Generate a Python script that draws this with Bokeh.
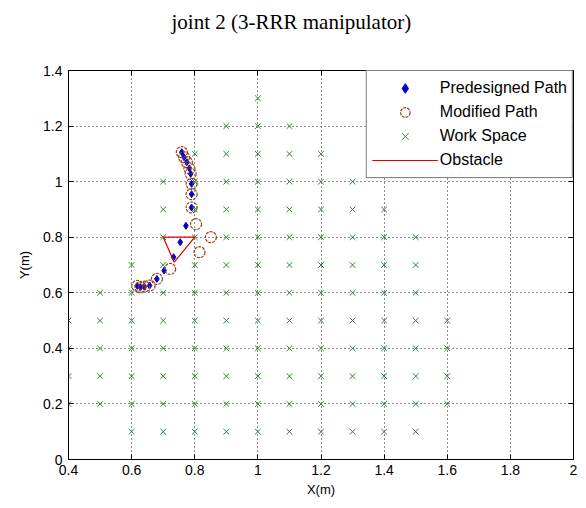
from bokeh.plotting import figure
from bokeh.models import (Range1d, FixedTicker, LinearAxis, Legend, LegendItem, Title,
                          CustomLabelingPolicy)
from bokeh.embed import file_html
from bokeh.resources import INLINE

# ---------------- data ----------------
title_text = "joint 2 (3-RRR manipulator)"
x_label = "X(m)"
y_label = "Y(m)"

x_ticks = [0.4, 0.6, 0.8, 1.0, 1.2, 1.4, 1.6, 1.8, 2.0]
x_tick_labels = ["0.4", "0.6", "0.8", "1", "1.2", "1.4", "1.6", "1.8", "2"]
y_ticks = [0.0, 0.2, 0.4, 0.6, 0.8, 1.0, 1.2, 1.4]
y_tick_labels = ["0", "0.2", "0.4", "0.6", "0.8", "1", "1.2", "1.4"]

# Work space grid points, row by row (y value, list of x values)
ws_row_y = [1.3, 1.2, 1.1, 1.0, 0.9, 0.8, 0.7, 0.6, 0.5, 0.4, 0.3, 0.2, 0.1]
ws_row_130 = [1.0]
ws_row_120 = [0.9, 1.0, 1.1]
ws_row_110 = [0.8, 0.9, 1.0, 1.1, 1.2]
ws_row_100 = [0.7, 0.8, 0.9, 1.0, 1.1, 1.2, 1.3]
ws_row_090 = [0.7, 0.8, 0.9, 1.0, 1.1, 1.2, 1.3, 1.4]
ws_row_080 = [0.7, 0.8, 0.9, 1.0, 1.1, 1.2, 1.3, 1.4, 1.5]
ws_row_070 = [0.6, 0.7, 0.8, 0.9, 1.0, 1.1, 1.2, 1.3, 1.4, 1.5]
ws_row_060 = [0.5, 0.6, 0.7, 0.8, 0.9, 1.0, 1.1, 1.2, 1.3, 1.4, 1.5]
ws_row_050 = [0.4, 0.5, 0.6, 0.7, 0.8, 0.9, 1.0, 1.1, 1.2, 1.3, 1.4, 1.5, 1.6]
ws_row_040 = [0.4, 0.5, 0.6, 0.7, 0.8, 0.9, 1.0, 1.1, 1.2, 1.3, 1.4, 1.5, 1.6]
ws_row_030 = [0.4, 0.5, 0.6, 0.7, 0.8, 0.9, 1.0, 1.1, 1.2, 1.3, 1.4, 1.5, 1.6]
ws_row_020 = [0.4, 0.5, 0.6, 0.7, 0.8, 0.9, 1.0, 1.1, 1.2, 1.3, 1.4, 1.5, 1.6]
ws_row_010 = [0.6, 0.7, 0.8, 0.9, 1.0, 1.1, 1.2, 1.3, 1.4, 1.5]
ws_rows_x = [ws_row_130, ws_row_120, ws_row_110, ws_row_100, ws_row_090, ws_row_080,
             ws_row_070, ws_row_060, ws_row_050, ws_row_040, ws_row_030, ws_row_020, ws_row_010]

# Predesigned path
pre_x = [0.759, 0.766, 0.775, 0.783, 0.787, 0.790, 0.790, 0.790, 0.772, 0.754,
         0.733, 0.703, 0.680, 0.657, 0.640, 0.628, 0.618]
pre_y = [1.106, 1.088, 1.070, 1.048, 1.028, 0.992, 0.955, 0.907, 0.841, 0.782,
         0.728, 0.680, 0.650, 0.626, 0.622, 0.620, 0.625]

# Modified path
mod_x = [0.759, 0.766, 0.775, 0.783, 0.787, 0.790, 0.790, 0.790, 0.804, 0.851,
         0.815, 0.722, 0.680, 0.657, 0.640, 0.628, 0.618]
mod_y = [1.106, 1.088, 1.070, 1.048, 1.028, 0.992, 0.955, 0.907, 0.847, 0.800,
         0.746, 0.686, 0.650, 0.626, 0.622, 0.620, 0.625]

# Obstacle (closed triangle)
obs_x = [0.700, 0.800, 0.735, 0.700]
obs_y = [0.800, 0.800, 0.710, 0.800]

legend_labels = ["Predesigned Path", "Modified Path", "Work Space", "Obstacle"]

# ---------------- build ----------------
ws_x = []
ws_y = []
for yv, xs in zip(ws_row_y, ws_rows_x):
    for xv in xs:
        ws_x.append(xv)
        ws_y.append(yv)

FONT = "Liberation Sans"

p = figure(width=586, height=508, x_range=Range1d(0.4, 2.0), y_range=Range1d(0.0, 1.4),
           output_backend="svg", toolbar_location=None,
           min_border_left=68, min_border_right=13, min_border_top=70,
           min_border_bottom=49,
           background_fill_color="white", border_fill_color="white")

p.title = Title(text=title_text, align="left", offset=103, standoff=10,
                text_font="Liberation Serif", text_font_size="21px",
                text_font_style="normal", text_color="black")

p.outline_line_color = "black"
p.outline_line_width = 1

# axes
for ax, ticks, labels in ((p.xaxis[0], x_ticks, x_tick_labels), (p.yaxis[0], y_ticks, y_tick_labels)):
    ax.ticker = FixedTicker(ticks=ticks)
    ax.major_label_overrides = {t: l for t, l in zip(ticks, labels)}
    ax.major_tick_in = 5
    ax.major_tick_out = 0
    ax.minor_tick_line_color = None
    ax.axis_line_color = "black"
    ax.major_tick_line_color = "black"
    ax.major_label_text_font = FONT
    ax.major_label_text_font_size = "14px"
    ax.major_label_text_color = "black"
    ax.axis_label_text_font = FONT
    ax.axis_label_text_font_size = "13px"
    ax.axis_label_text_font_style = "normal"
    ax.axis_label_text_color = "black"

p.xaxis.axis_label = x_label
p.yaxis.axis_label = y_label
p.xaxis.major_label_standoff = 5
p.xaxis.axis_label_standoff = 4
p.yaxis.major_label_standoff = 6
p.yaxis.axis_label_standoff = 8

# mirrored axes (box on): ticks only, labels filtered out (top one keeps its space
# so that the title sits higher above the frame)
no_labels = CustomLabelingPolicy(code="for (let i = 0; i < indices.size; i++) { indices.unset(i) } return indices")
top_ax = LinearAxis(ticker=FixedTicker(ticks=x_ticks), major_tick_in=5, major_tick_out=0,
                    minor_tick_line_color=None, major_label_policy=no_labels,
                    major_label_text_font_size="14px", major_label_standoff=19,
                    axis_line_color="black")
right_ax = LinearAxis(ticker=FixedTicker(ticks=y_ticks), major_tick_in=5, major_tick_out=0,
                      minor_tick_line_color=None, major_label_policy=no_labels,
                      major_label_text_font_size="0px", major_label_standoff=0,
                      axis_line_color="black")
p.add_layout(top_ax, "above")
p.add_layout(right_ax, "right")

# grid
for g in (p.xgrid[0], p.ygrid[0]):
    g.grid_line_color = "black"
    g.grid_line_dash = "1 3"
    g.grid_line_alpha = 0.9
    g.grid_line_width = 1
p.xgrid[0].ticker = FixedTicker(ticks=x_ticks)
p.ygrid[0].ticker = FixedTicker(ticks=y_ticks)

# glyphs
r_pre = p.scatter(pre_x, pre_y, marker="diamond", size=7, fill_color="#0000cc",
                  line_color="#0000cc", line_width=1)
r_mod = p.scatter(mod_x, mod_y, marker="circle", size=11, fill_color=None,
                  line_color="#9a4416", line_width=1.2, line_dash="3 1")
r_ws = p.scatter(ws_x, ws_y, marker="x", size=8, line_color="#2f842f", line_width=1)
r_obs = p.line(obs_x, obs_y, line_color="#dd0000", line_width=1.2)

legend = Legend(items=[LegendItem(label=legend_labels[0], renderers=[r_pre]),
                       LegendItem(label=legend_labels[1], renderers=[r_mod]),
                       LegendItem(label=legend_labels[2], renderers=[r_ws]),
                       LegendItem(label=legend_labels[3], renderers=[r_obs])],
                location="top_right", margin=0, padding=5, spacing=0,
                label_height=24, glyph_height=24, glyph_width=66, label_standoff=2,
                label_text_font=FONT, label_text_font_size="16px", label_text_color="black",
                border_line_color="black", border_line_width=1,
                background_fill_color="white", background_fill_alpha=1.0)
p.add_layout(legend, "center")

open("out.html", "w").write(file_html(p, INLINE))
